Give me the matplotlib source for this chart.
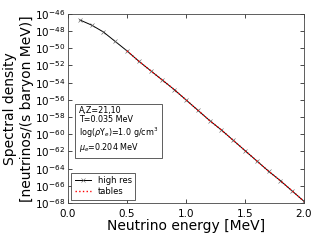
import matplotlib
matplotlib.use('Agg')
import matplotlib.pyplot as plt
import numpy as np

# energia do neutrino [MeV] e log10 da densidade espectral
energia_hr = [0.1, 0.2, 0.3, 0.4, 0.5, 0.6, 0.7, 0.8, 0.9, 1.0,
              1.1, 1.2, 1.3, 1.4, 1.5, 1.6, 1.7, 1.8, 1.9, 2.0]
log_dens_hr = [-46.7, -47.3, -48.1, -49.2, -50.3, -51.5, -52.6, -53.7, -54.8, -56.0,
               -57.2, -58.4, -59.5, -60.7, -61.9, -63.1, -64.3, -65.4, -66.6, -67.8]

energia_tab = [0.5, 0.6, 0.7, 0.8, 0.9, 1.0, 1.1, 1.2, 1.3, 1.4,
               1.5, 1.6, 1.7, 1.8, 1.9, 2.0]
log_dens_tab = [-50.3, -51.5, -52.6, -53.7, -54.8, -56.0, -57.2, -58.4, -59.5, -60.7,
                -61.9, -63.1, -64.3, -65.4, -66.6, -67.8]

info = 'A,Z=21,10\nT=0.035 MeV\nlog($\\rho$Y$_e$)=1.0 g/cm$^3$\n$\\mu_e$=0.204 MeV'

fig = plt.figure(figsize=(3.2, 2.4), dpi=100)
ax = fig.add_axes([0.2125, 0.154, 0.7375, 0.788])

ax.semilogy(energia_hr, 10.0 ** np.array(log_dens_hr), 'k-', marker='x',
            markersize=3, markeredgewidth=0.4, markeredgecolor='#555555',
            linewidth=0.7, label='high res')
ax.semilogy(energia_tab, 10.0 ** np.array(log_dens_tab), 'r:', linewidth=1.0,
            label='tables')

ax.set_xlim(0.0, 2.0)
ax.set_ylim(1e-68, 1e-46)
ax.set_xticks([0.0, 0.5, 1.0, 1.5, 2.0])
ax.set_yticks([10.0 ** e for e in range(-68, -45, 2)])
ax.yaxis.set_minor_locator(matplotlib.ticker.NullLocator())
ax.tick_params(direction='in', top=True, right=True, labelsize=7.5, length=3, width=0.5)
ax.tick_params(axis='y', pad=2)
ax.tick_params(axis='x', pad=4)
for s in ax.spines.values():
    s.set_linewidth(0.6)
    s.set_color('#444444')

ax.set_xlabel('Neutrino energy [MeV]', fontsize=10, labelpad=0)
ax.set_ylabel('Spectral density\n[neutrinos/(s baryon MeV)]', fontsize=10, labelpad=1)

ax.text(0.045, 0.515, info, transform=ax.transAxes, fontsize=5.8, va='top', ha='left',
        linespacing=1.1,
        bbox=dict(boxstyle='square,pad=0.5', facecolor='white', edgecolor='#444444', linewidth=0.6))

leg = ax.legend(loc='lower left', fontsize=6, handlelength=2.0, borderpad=0.4,
                labelspacing=0.3, fancybox=False, framealpha=1.0, borderaxespad=0.4)
leg.get_frame().set_edgecolor('#444444')
leg.get_frame().set_linewidth(0.6)

plt.savefig('out.png', dpi=100)
plt.close()
